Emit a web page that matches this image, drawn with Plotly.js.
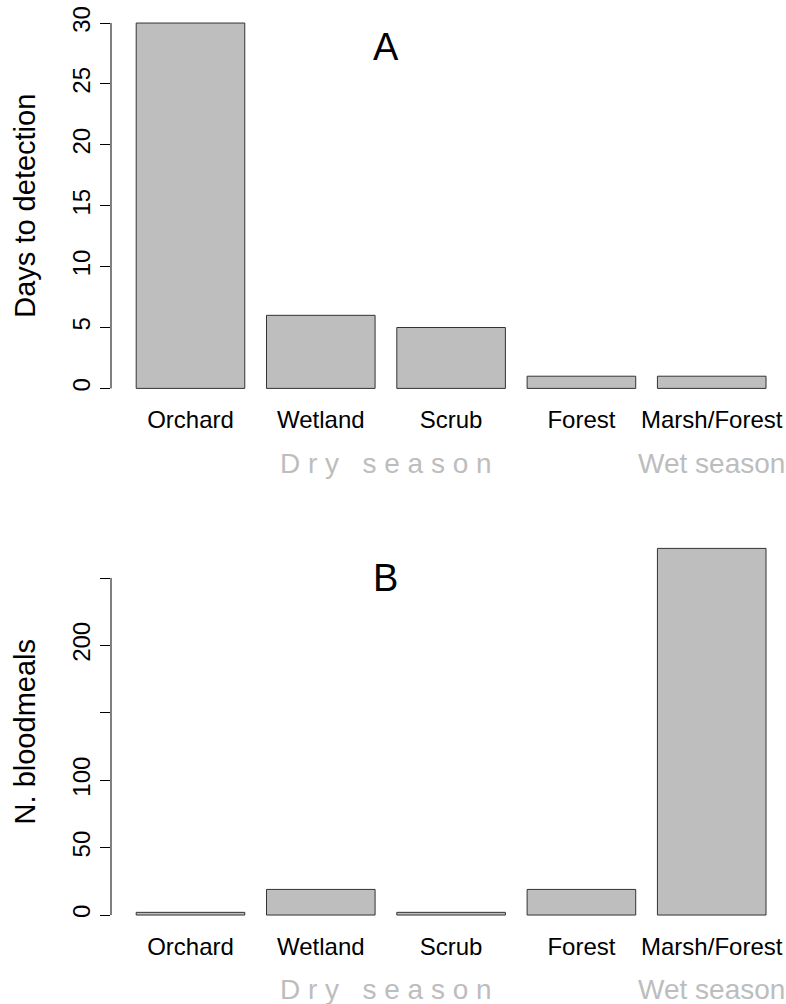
<!DOCTYPE html>
<html>
<head>
<meta charset="utf-8">
<script src="https://cdn.plot.ly/plotly-3.0.1.min.js"></script>
<style>html,body{margin:0;padding:0;background:#fff;}#chart{width:786px;height:1004px;}</style>
</head>
<body>
<div id="chart"></div>
<script>
// ---- data ----
const categories = ['Orchard', 'Wetland', 'Scrub', 'Forest', 'Marsh/Forest'];
const daysToDetection = [30, 6, 5, 1, 1];
const bloodmeals = [2, 19, 2, 19, 272];
const ticksA = [0, 5, 10, 15, 20, 25, 30];
const ticksALabels = ['0', '5', '10', '15', '20', '25', '30'];
const ticksB = [0, 50, 100, 150, 200, 250];
const ticksBLabels = ['0', '50', '100', '', '200', ''];
const dryLabel = 'D\u00a0r\u00a0y\u00a0\u00a0\u00a0s\u00a0e\u00a0a\u00a0s\u00a0o\u00a0n';
const wetLabel = 'Wet season';
const panelLabels = ['A', 'B'];

const FONT = 'Liberation Sans, Arial, sans-serif';
const barFill = '#bebebe';
const barLine = '#333333';
const seasonColor = '#bdbdbd';

const traces = [
  {type: 'bar', x: categories, y: daysToDetection, xaxis: 'x', yaxis: 'y',
   marker: {color: barFill, line: {color: barLine, width: 1}}, hoverinfo: 'x+y'},
  {type: 'bar', x: categories, y: bloodmeals, xaxis: 'x2', yaxis: 'y2',
   marker: {color: barFill, line: {color: barLine, width: 1}}, hoverinfo: 'x+y'}
];

const xCommon = {
  type: 'category', range: [-0.61, 4.57], showgrid: false, zeroline: false,
  showline: false, ticks: '', tickfont: {family: FONT, size: 24, color: '#000'},
  fixedrange: true
};
const yCommon = {
  showgrid: false, zeroline: false, showline: false, ticks: 'outside', ticklen: 10,
  tickwidth: 1, tickcolor: '#000', tickangle: -90, tickmode: 'array',
  tickfont: {family: FONT, size: 24, color: '#000'}, fixedrange: true
};

const layout = {
  width: 786, height: 1004,
  margin: {l: 111, r: 0, t: 0, b: 0},
  paper_bgcolor: '#fff', plot_bgcolor: '#fff',
  showlegend: false, bargap: 0.1667,
  font: {family: FONT, color: '#000'},
  xaxis: Object.assign({}, xCommon, {anchor: 'y', domain: [0, 1]}),
  xaxis2: Object.assign({}, xCommon, {anchor: 'y2', domain: [0, 1]}),
  yaxis: Object.assign({}, yCommon, {
    anchor: 'x', domain: [0.5986, 0.9916], range: [-1.2, 31.2],
    tickvals: ticksA, ticktext: ticksALabels,
    title: {text: 'Days to detection', font: {family: FONT, size: 29, color: '#000'}, standoff: 24}
  }),
  yaxis2: Object.assign({}, yCommon, {
    anchor: 'x2', domain: [0.0740, 0.4684], range: [-10.88, 282.88],
    tickvals: ticksB, ticktext: ticksBLabels,
    title: {text: 'N. bloodmeals', font: {family: FONT, size: 29, color: '#000'}, standoff: 24}
  }),
  shapes: [
    {type: 'line', xref: 'x domain', yref: 'y', x0: 0, x1: 0,
     y0: ticksA[0], y1: ticksA[ticksA.length - 1], line: {color: '#000', width: 1}},
    {type: 'line', xref: 'x2 domain', yref: 'y2', x0: 0, x1: 0,
     y0: ticksB[0], y1: ticksB[ticksB.length - 1], line: {color: '#000', width: 1}}
  ],
  annotations: [
    {text: panelLabels[0], xref: 'x', yref: 'y', x: 1.5, y: 28, showarrow: false,
     xanchor: 'center', yanchor: 'middle', font: {family: FONT, size: 38, color: '#000'}},
    {text: panelLabels[1], xref: 'x2', yref: 'y2', x: 1.5, y: 250, showarrow: false,
     xanchor: 'center', yanchor: 'middle', font: {family: FONT, size: 38, color: '#000'}},
    {text: dryLabel, xref: 'x', yref: 'paper', x: 1.5, y: 1 - 463 / 1004, showarrow: false,
     xanchor: 'center', yanchor: 'middle', font: {family: FONT, size: 28, color: seasonColor}},
    {text: wetLabel, xref: 'x', yref: 'paper', x: 4, y: 1 - 463 / 1004, showarrow: false,
     xanchor: 'center', yanchor: 'middle', font: {family: FONT, size: 28, color: seasonColor}},
    {text: dryLabel, xref: 'x2', yref: 'paper', x: 1.5, y: 1 - 989 / 1004, showarrow: false,
     xanchor: 'center', yanchor: 'middle', font: {family: FONT, size: 28, color: seasonColor}},
    {text: wetLabel, xref: 'x2', yref: 'paper', x: 4, y: 1 - 989 / 1004, showarrow: false,
     xanchor: 'center', yanchor: 'middle', font: {family: FONT, size: 28, color: seasonColor}}
  ]
};

Plotly.newPlot('chart', traces, layout, {displayModeBar: false, staticPlot: true});
</script>
</body>
</html>
